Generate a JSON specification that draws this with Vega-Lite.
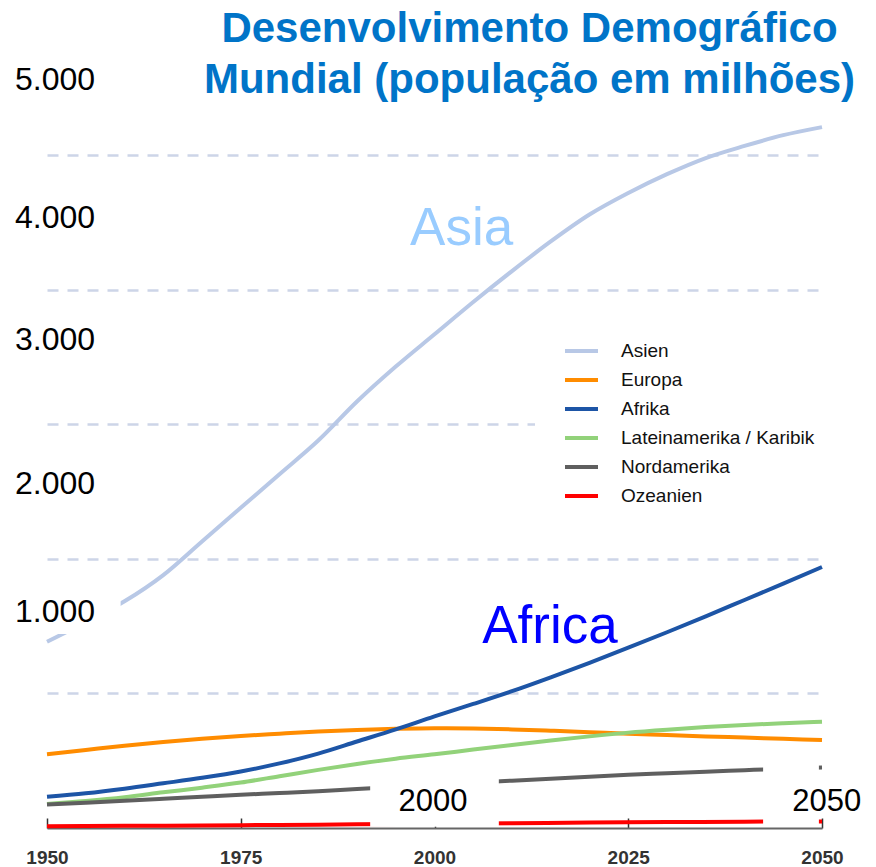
{
  "$schema": "https://vega.github.io/schema/vega-lite/v6.json",
  "width": 775,
  "height": 713,
  "autosize": {"type": "none"},
  "padding": {"left": 47, "top": 115, "right": 54, "bottom": 39},
  "background": "white",
  "title": {
    "text": ["Desenvolvimento Demográfico", "Mundial (população em milhões)"],
    "font": "Liberation Sans",
    "fontSize": 42,
    "fontWeight": "bold",
    "color": "#0074c8",
    "anchor": "middle",
    "frame": "group",
    "dx": 95,
    "dy": 38,
    "lineHeight": 51,
    "offset": 0
  },
  "config": {
    "view": {"stroke": null},
    "font": "Liberation Sans"
  },
  "datasets": {
    "pop": [
      {"region": "Asien", "year": 1950, "value": 1385},
      {"region": "Asien", "year": 1955, "value": 1530},
      {"region": "Asien", "year": 1960, "value": 1685},
      {"region": "Asien", "year": 1965, "value": 1880},
      {"region": "Asien", "year": 1970, "value": 2130},
      {"region": "Asien", "year": 1975, "value": 2380},
      {"region": "Asien", "year": 1980, "value": 2630},
      {"region": "Asien", "year": 1985, "value": 2880},
      {"region": "Asien", "year": 1990, "value": 3170},
      {"region": "Asien", "year": 1995, "value": 3430},
      {"region": "Asien", "year": 2000, "value": 3670},
      {"region": "Asien", "year": 2005, "value": 3910},
      {"region": "Asien", "year": 2010, "value": 4140},
      {"region": "Asien", "year": 2015, "value": 4360},
      {"region": "Asien", "year": 2020, "value": 4560},
      {"region": "Asien", "year": 2025, "value": 4720},
      {"region": "Asien", "year": 2030, "value": 4860},
      {"region": "Asien", "year": 2035, "value": 4980},
      {"region": "Asien", "year": 2040, "value": 5070},
      {"region": "Asien", "year": 2045, "value": 5150},
      {"region": "Asien", "year": 2050, "value": 5210},
      {"region": "Europa", "year": 1950, "value": 548},
      {"region": "Europa", "year": 1955, "value": 580},
      {"region": "Europa", "year": 1960, "value": 612},
      {"region": "Europa", "year": 1965, "value": 640},
      {"region": "Europa", "year": 1970, "value": 663},
      {"region": "Europa", "year": 1975, "value": 684},
      {"region": "Europa", "year": 1980, "value": 701},
      {"region": "Europa", "year": 1985, "value": 717},
      {"region": "Europa", "year": 1990, "value": 729},
      {"region": "Europa", "year": 1995, "value": 737},
      {"region": "Europa", "year": 2000, "value": 741},
      {"region": "Europa", "year": 2005, "value": 739},
      {"region": "Europa", "year": 2010, "value": 733},
      {"region": "Europa", "year": 2015, "value": 723},
      {"region": "Europa", "year": 2020, "value": 712},
      {"region": "Europa", "year": 2025, "value": 700},
      {"region": "Europa", "year": 2030, "value": 691},
      {"region": "Europa", "year": 2035, "value": 681},
      {"region": "Europa", "year": 2040, "value": 672},
      {"region": "Europa", "year": 2045, "value": 663},
      {"region": "Europa", "year": 2050, "value": 654},
      {"region": "Afrika", "year": 1950, "value": 232},
      {"region": "Afrika", "year": 1955, "value": 258},
      {"region": "Afrika", "year": 1960, "value": 292},
      {"region": "Afrika", "year": 1965, "value": 332},
      {"region": "Afrika", "year": 1970, "value": 373},
      {"region": "Afrika", "year": 1975, "value": 420},
      {"region": "Afrika", "year": 1980, "value": 480},
      {"region": "Afrika", "year": 1985, "value": 553},
      {"region": "Afrika", "year": 1990, "value": 643},
      {"region": "Afrika", "year": 1995, "value": 733},
      {"region": "Afrika", "year": 2000, "value": 830},
      {"region": "Afrika", "year": 2005, "value": 922},
      {"region": "Afrika", "year": 2010, "value": 1017},
      {"region": "Afrika", "year": 2015, "value": 1120},
      {"region": "Afrika", "year": 2020, "value": 1228},
      {"region": "Afrika", "year": 2025, "value": 1340},
      {"region": "Afrika", "year": 2030, "value": 1455},
      {"region": "Afrika", "year": 2035, "value": 1573},
      {"region": "Afrika", "year": 2040, "value": 1695},
      {"region": "Afrika", "year": 2045, "value": 1817},
      {"region": "Afrika", "year": 2050, "value": 1940},
      {"region": "Lateinamerika / Karibik", "year": 1950, "value": 178},
      {"region": "Lateinamerika / Karibik", "year": 1955, "value": 200},
      {"region": "Lateinamerika / Karibik", "year": 1960, "value": 228},
      {"region": "Lateinamerika / Karibik", "year": 1965, "value": 265},
      {"region": "Lateinamerika / Karibik", "year": 1970, "value": 300},
      {"region": "Lateinamerika / Karibik", "year": 1975, "value": 338},
      {"region": "Lateinamerika / Karibik", "year": 1980, "value": 385},
      {"region": "Lateinamerika / Karibik", "year": 1985, "value": 432},
      {"region": "Lateinamerika / Karibik", "year": 1990, "value": 476},
      {"region": "Lateinamerika / Karibik", "year": 1995, "value": 515},
      {"region": "Lateinamerika / Karibik", "year": 2000, "value": 548},
      {"region": "Lateinamerika / Karibik", "year": 2005, "value": 583},
      {"region": "Lateinamerika / Karibik", "year": 2010, "value": 617},
      {"region": "Lateinamerika / Karibik", "year": 2015, "value": 650},
      {"region": "Lateinamerika / Karibik", "year": 2020, "value": 681},
      {"region": "Lateinamerika / Karibik", "year": 2025, "value": 709},
      {"region": "Lateinamerika / Karibik", "year": 2030, "value": 731},
      {"region": "Lateinamerika / Karibik", "year": 2035, "value": 750},
      {"region": "Lateinamerika / Karibik", "year": 2040, "value": 766},
      {"region": "Lateinamerika / Karibik", "year": 2045, "value": 779},
      {"region": "Lateinamerika / Karibik", "year": 2050, "value": 790},
      {"region": "Nordamerika", "year": 1950, "value": 175},
      {"region": "Nordamerika", "year": 1955, "value": 188},
      {"region": "Nordamerika", "year": 1960, "value": 202},
      {"region": "Nordamerika", "year": 1965, "value": 217},
      {"region": "Nordamerika", "year": 1970, "value": 232},
      {"region": "Nordamerika", "year": 1975, "value": 247},
      {"region": "Nordamerika", "year": 1980, "value": 260},
      {"region": "Nordamerika", "year": 1985, "value": 274},
      {"region": "Nordamerika", "year": 1990, "value": 290},
      {"region": "Nordamerika", "year": 1995, "value": 305},
      {"region": "Nordamerika", "year": 2000, "value": 320},
      {"region": "Nordamerika", "year": 2005, "value": 337},
      {"region": "Nordamerika", "year": 2010, "value": 352},
      {"region": "Nordamerika", "year": 2015, "value": 366},
      {"region": "Nordamerika", "year": 2020, "value": 381},
      {"region": "Nordamerika", "year": 2025, "value": 395},
      {"region": "Nordamerika", "year": 2030, "value": 407},
      {"region": "Nordamerika", "year": 2035, "value": 419},
      {"region": "Nordamerika", "year": 2040, "value": 430},
      {"region": "Nordamerika", "year": 2045, "value": 441},
      {"region": "Nordamerika", "year": 2050, "value": 450},
      {"region": "Ozeanien", "year": 1950, "value": 13},
      {"region": "Ozeanien", "year": 1960, "value": 16},
      {"region": "Ozeanien", "year": 1970, "value": 19},
      {"region": "Ozeanien", "year": 1980, "value": 23},
      {"region": "Ozeanien", "year": 1990, "value": 27},
      {"region": "Ozeanien", "year": 2000, "value": 31},
      {"region": "Ozeanien", "year": 2010, "value": 36},
      {"region": "Ozeanien", "year": 2020, "value": 40},
      {"region": "Ozeanien", "year": 2030, "value": 44},
      {"region": "Ozeanien", "year": 2040, "value": 47},
      {"region": "Ozeanien", "year": 2050, "value": 49}
    ],
    "boxes": [
      {"year": 1946, "year2": 1959.5, "value": 1442, "value2": 1760},
      {"year": 1991.7, "year2": 2008.3, "value": 10, "value2": 439},
      {"year": 2042.4, "year2": 2049.6, "value": 15, "value2": 520}
    ],
    "scaleLabels": [
      {"label": "5.000", "year": 1956.2, "value": 5487},
      {"label": "4.000", "year": 1956.2, "value": 4457},
      {"label": "3.000", "year": 1956.2, "value": 3550},
      {"label": "2.000", "year": 1956.2, "value": 2483},
      {"label": "1.000", "year": 1956.2, "value": 1532}
    ],
    "yearLabels": [
      {"label": "2000", "year": 1999.8, "value": 126},
      {"label": "2050", "year": 2050.6, "value": 126}
    ],
    "asiaLabel": [{"label": "Asia", "year": 2003.5, "value": 4335}],
    "africaLabel": [{"label": "Africa", "year": 2014.9, "value": 1375}]
  },
  "layer": [
    {
      "data": {"name": "pop"},
      "mark": {"type": "line", "strokeWidth": 4, "interpolate": "monotone"},
      "encoding": {
        "x": {
          "field": "year", "type": "quantitative",
          "scale": {"domain": [1950, 2050], "nice": false, "zero": false},
          "axis": {
            "values": [1950, 1975, 2000, 2025, 2050], "format": "d", "title": null,
            "grid": false, "domainColor": "#666666", "domainWidth": 2,
            "tickColor": "#333333", "tickWidth": 1.5, "tickSize": -10,
            "labelFont": "Liberation Sans", "labelFontSize": 19, "labelFontWeight": "bold",
            "labelColor": "#333333", "labelPadding": 30, "labelFlush": false, "labelOverlap": false
          }
        },
        "y": {
          "field": "value", "type": "quantitative",
          "scale": {"domain": [0, 5300], "nice": false},
          "axis": {
            "values": [1000, 2000, 3000, 4000, 5000], "labels": false, "ticks": false,
            "domain": false, "title": null, "grid": true, "gridDash": [11, 9],
            "gridColor": "#cdd5e8", "gridWidth": 2.5
          }
        },
        "color": {
          "field": "region", "type": "nominal",
          "scale": {
            "domain": ["Asien", "Europa", "Afrika", "Lateinamerika / Karibik", "Nordamerika", "Ozeanien"],
            "range": ["#b8c8e6", "#ff8c00", "#1d55a6", "#92d27a", "#5f5f5f", "#ff0000"]
          },
          "legend": {
            "orient": "none", "legendX": 488, "legendY": 189.5, "title": null,
            "symbolType": "stroke", "symbolSize": 1089, "symbolStrokeWidth": 4,
            "labelFont": "Liberation Sans", "labelFontSize": 19, "labelColor": "#111111",
            "labelLimit": 320, "labelOffset": 21, "rowPadding": 0, "fillColor": "white", "padding": 28
          }
        }
      }
    },
    {
      "data": {"name": "boxes"},
      "mark": {"type": "rect", "fill": "white"},
      "encoding": {
        "x": {"field": "year", "type": "quantitative"},
        "x2": {"field": "year2"},
        "y": {"field": "value", "type": "quantitative"},
        "y2": {"field": "value2"}
      }
    },
    {
      "data": {"name": "scaleLabels"},
      "mark": {"type": "text", "align": "right", "baseline": "alphabetic", "fontSize": 32, "font": "Liberation Sans", "color": "black"},
      "encoding": {
        "x": {"field": "year", "type": "quantitative"},
        "y": {"field": "value", "type": "quantitative"},
        "text": {"field": "label"}
      }
    },
    {
      "data": {"name": "yearLabels"},
      "mark": {"type": "text", "align": "center", "baseline": "alphabetic", "fontSize": 31, "font": "Liberation Sans", "color": "black"},
      "encoding": {
        "x": {"field": "year", "type": "quantitative"},
        "y": {"field": "value", "type": "quantitative"},
        "text": {"field": "label"}
      }
    },
    {
      "data": {"name": "asiaLabel"},
      "mark": {"type": "text", "align": "center", "baseline": "alphabetic", "fontSize": 53, "font": "Liberation Sans", "color": "#99ccff"},
      "encoding": {
        "x": {"field": "year", "type": "quantitative"},
        "y": {"field": "value", "type": "quantitative"},
        "text": {"field": "label"}
      }
    },
    {
      "data": {"name": "africaLabel"},
      "mark": {"type": "text", "align": "center", "baseline": "alphabetic", "fontSize": 53, "font": "Liberation Sans", "color": "#0000ff"},
      "encoding": {
        "x": {"field": "year", "type": "quantitative"},
        "y": {"field": "value", "type": "quantitative"},
        "text": {"field": "label"}
      }
    }
  ]
}
